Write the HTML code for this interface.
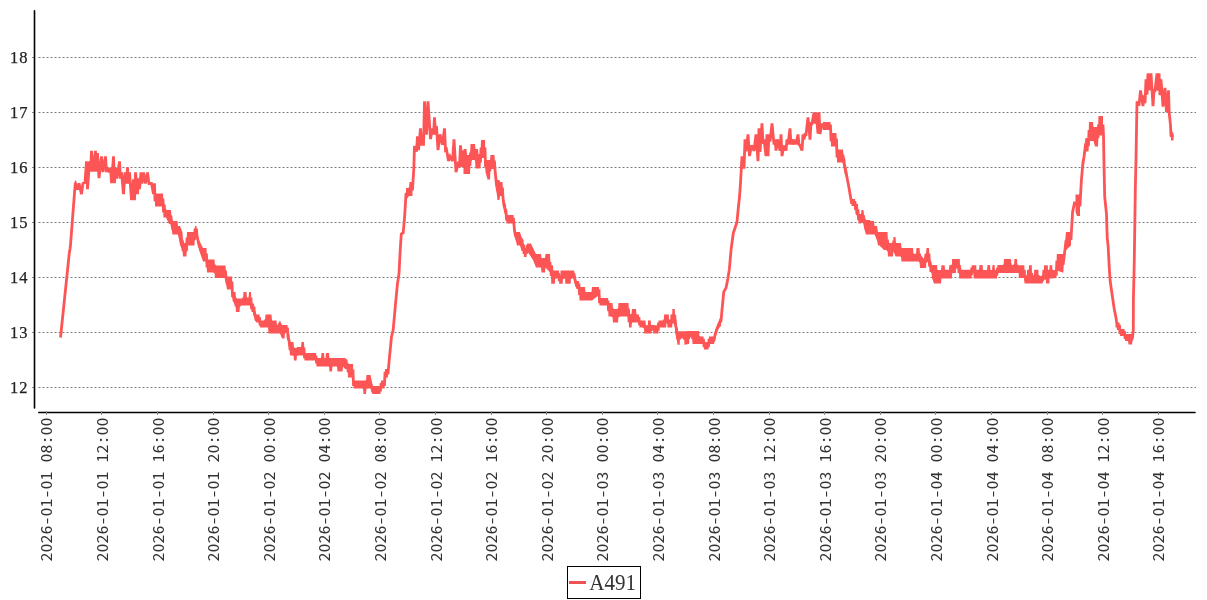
<!DOCTYPE html>
<html><head><meta charset="utf-8"><style>
html,body{margin:0;padding:0;background:#fff;width:1207px;height:600px;overflow:hidden}
.yl{font-family:"Liberation Serif","Noto Serif CJK SC",serif;font-size:16.5px;fill:#222;stroke:#222;stroke-width:0.25px}
.xl{font-family:"Noto Sans Mono CJK SC","DejaVu Sans Mono",monospace;font-size:18px;fill:#333}
.lg{font-family:"Liberation Serif","Noto Serif CJK SC",serif;font-size:22.5px;fill:#333}
</style></head><body>
<svg width="1207" height="600" viewBox="0 0 1207 600" style="position:absolute;left:0;top:0">
<line x1="38.5" y1="387.5" x2="1196" y2="387.5" stroke="#7a7a7a" stroke-width="1" stroke-dasharray="2 2"/>
<line x1="32" y1="387.5" x2="34" y2="387.5" stroke="#888" stroke-width="1"/>
<text x="27.6" y="393.1" text-anchor="end" class="yl">1<tspan dx="1.2">2</tspan></text>
<line x1="38.5" y1="332.5" x2="1196" y2="332.5" stroke="#7a7a7a" stroke-width="1" stroke-dasharray="2 2"/>
<line x1="32" y1="332.5" x2="34" y2="332.5" stroke="#888" stroke-width="1"/>
<text x="27.6" y="338.1" text-anchor="end" class="yl">1<tspan dx="1.2">3</tspan></text>
<line x1="38.5" y1="277.5" x2="1196" y2="277.5" stroke="#7a7a7a" stroke-width="1" stroke-dasharray="2 2"/>
<line x1="32" y1="277.5" x2="34" y2="277.5" stroke="#888" stroke-width="1"/>
<text x="27.6" y="283.1" text-anchor="end" class="yl">1<tspan dx="1.2">4</tspan></text>
<line x1="38.5" y1="222.5" x2="1196" y2="222.5" stroke="#7a7a7a" stroke-width="1" stroke-dasharray="2 2"/>
<line x1="32" y1="222.5" x2="34" y2="222.5" stroke="#888" stroke-width="1"/>
<text x="27.6" y="228.1" text-anchor="end" class="yl">1<tspan dx="1.2">5</tspan></text>
<line x1="38.5" y1="167.5" x2="1196" y2="167.5" stroke="#7a7a7a" stroke-width="1" stroke-dasharray="2 2"/>
<line x1="32" y1="167.5" x2="34" y2="167.5" stroke="#888" stroke-width="1"/>
<text x="27.6" y="173.1" text-anchor="end" class="yl">1<tspan dx="1.2">6</tspan></text>
<line x1="38.5" y1="112.5" x2="1196" y2="112.5" stroke="#7a7a7a" stroke-width="1" stroke-dasharray="2 2"/>
<line x1="32" y1="112.5" x2="34" y2="112.5" stroke="#888" stroke-width="1"/>
<text x="27.6" y="118.1" text-anchor="end" class="yl">1<tspan dx="1.2">7</tspan></text>
<line x1="38.5" y1="57.5" x2="1196" y2="57.5" stroke="#7a7a7a" stroke-width="1" stroke-dasharray="2 2"/>
<line x1="32" y1="57.5" x2="34" y2="57.5" stroke="#888" stroke-width="1"/>
<text x="27.6" y="63.1" text-anchor="end" class="yl">1<tspan dx="1.2">8</tspan></text>
<line x1="34.5" y1="10.8" x2="34.5" y2="408" stroke="#000" stroke-width="1.6" stroke-linecap="round"/>
<line x1="38.8" y1="412.5" x2="1195" y2="412.5" stroke="#000" stroke-width="1.6" stroke-linecap="round"/>
<line x1="46.5" y1="411" x2="46.5" y2="415" stroke="#888" stroke-width="1"/>
<text transform="translate(52.3,417.5) rotate(-90) scale(1,0.836)" text-anchor="end" class="xl">2026-01-01 08:00</text>
<line x1="101.5" y1="411" x2="101.5" y2="415" stroke="#888" stroke-width="1"/>
<text transform="translate(107.9,417.5) rotate(-90) scale(1,0.836)" text-anchor="end" class="xl">2026-01-01 12:00</text>
<line x1="157.5" y1="411" x2="157.5" y2="415" stroke="#888" stroke-width="1"/>
<text transform="translate(163.5,417.5) rotate(-90) scale(1,0.836)" text-anchor="end" class="xl">2026-01-01 16:00</text>
<line x1="213.5" y1="411" x2="213.5" y2="415" stroke="#888" stroke-width="1"/>
<text transform="translate(219.1,417.5) rotate(-90) scale(1,0.836)" text-anchor="end" class="xl">2026-01-01 20:00</text>
<line x1="268.5" y1="411" x2="268.5" y2="415" stroke="#888" stroke-width="1"/>
<text transform="translate(274.7,417.5) rotate(-90) scale(1,0.836)" text-anchor="end" class="xl">2026-01-02 00:00</text>
<line x1="324.5" y1="411" x2="324.5" y2="415" stroke="#888" stroke-width="1"/>
<text transform="translate(330.3,417.5) rotate(-90) scale(1,0.836)" text-anchor="end" class="xl">2026-01-02 04:00</text>
<line x1="379.5" y1="411" x2="379.5" y2="415" stroke="#888" stroke-width="1"/>
<text transform="translate(385.9,417.5) rotate(-90) scale(1,0.836)" text-anchor="end" class="xl">2026-01-02 08:00</text>
<line x1="435.5" y1="411" x2="435.5" y2="415" stroke="#888" stroke-width="1"/>
<text transform="translate(441.5,417.5) rotate(-90) scale(1,0.836)" text-anchor="end" class="xl">2026-01-02 12:00</text>
<line x1="491.5" y1="411" x2="491.5" y2="415" stroke="#888" stroke-width="1"/>
<text transform="translate(497.1,417.5) rotate(-90) scale(1,0.836)" text-anchor="end" class="xl">2026-01-02 16:00</text>
<line x1="546.5" y1="411" x2="546.5" y2="415" stroke="#888" stroke-width="1"/>
<text transform="translate(552.7,417.5) rotate(-90) scale(1,0.836)" text-anchor="end" class="xl">2026-01-02 20:00</text>
<line x1="602.5" y1="411" x2="602.5" y2="415" stroke="#888" stroke-width="1"/>
<text transform="translate(608.3,417.5) rotate(-90) scale(1,0.836)" text-anchor="end" class="xl">2026-01-03 00:00</text>
<line x1="657.5" y1="411" x2="657.5" y2="415" stroke="#888" stroke-width="1"/>
<text transform="translate(663.9,417.5) rotate(-90) scale(1,0.836)" text-anchor="end" class="xl">2026-01-03 04:00</text>
<line x1="713.5" y1="411" x2="713.5" y2="415" stroke="#888" stroke-width="1"/>
<text transform="translate(719.5,417.5) rotate(-90) scale(1,0.836)" text-anchor="end" class="xl">2026-01-03 08:00</text>
<line x1="769.5" y1="411" x2="769.5" y2="415" stroke="#888" stroke-width="1"/>
<text transform="translate(775.1,417.5) rotate(-90) scale(1,0.836)" text-anchor="end" class="xl">2026-01-03 12:00</text>
<line x1="824.5" y1="411" x2="824.5" y2="415" stroke="#888" stroke-width="1"/>
<text transform="translate(830.7,417.5) rotate(-90) scale(1,0.836)" text-anchor="end" class="xl">2026-01-03 16:00</text>
<line x1="880.5" y1="411" x2="880.5" y2="415" stroke="#888" stroke-width="1"/>
<text transform="translate(886.3,417.5) rotate(-90) scale(1,0.836)" text-anchor="end" class="xl">2026-01-03 20:00</text>
<line x1="935.5" y1="411" x2="935.5" y2="415" stroke="#888" stroke-width="1"/>
<text transform="translate(941.9,417.5) rotate(-90) scale(1,0.836)" text-anchor="end" class="xl">2026-01-04 00:00</text>
<line x1="991.5" y1="411" x2="991.5" y2="415" stroke="#888" stroke-width="1"/>
<text transform="translate(997.5,417.5) rotate(-90) scale(1,0.836)" text-anchor="end" class="xl">2026-01-04 04:00</text>
<line x1="1047.5" y1="411" x2="1047.5" y2="415" stroke="#888" stroke-width="1"/>
<text transform="translate(1053.1,417.5) rotate(-90) scale(1,0.836)" text-anchor="end" class="xl">2026-01-04 08:00</text>
<line x1="1102.5" y1="411" x2="1102.5" y2="415" stroke="#888" stroke-width="1"/>
<text transform="translate(1108.7,417.5) rotate(-90) scale(1,0.836)" text-anchor="end" class="xl">2026-01-04 12:00</text>
<line x1="1158.5" y1="411" x2="1158.5" y2="415" stroke="#888" stroke-width="1"/>
<text transform="translate(1164.3,417.5) rotate(-90) scale(1,0.836)" text-anchor="end" class="xl">2026-01-04 16:00</text>
<polyline points="60.5,337.5 64.0,304.0 69.3,253.0 70.0,249.0 70.4,246.0 75.2,184.0 75.5,183.4 77.5,189.6 79.0,183.4 81.5,194.1 83.0,183.4 85.0,182.6 86.5,161.4 87.5,189.1 89.5,161.4 90.5,171.6 91.5,150.9 93.5,171.6 95.5,150.9 96.5,171.6 97.5,153.2 99.0,178.1 101.5,156.4 103.0,172.1 105.5,156.4 106.5,172.1 107.5,167.9 109.5,172.1 110.5,167.9 111.5,183.1 113.5,156.4 114.5,183.1 115.5,167.9 117.0,178.6 119.5,161.4 120.5,178.6 121.5,172.4 123.5,194.1 125.0,172.4 126.5,183.6 127.5,167.4 128.5,183.6 129.5,172.4 131.5,200.1 133.5,179.4 134.5,200.1 135.5,172.4 137.5,194.1 138.5,178.4 139.5,189.1 141.0,172.4 142.0,183.6 143.5,172.4 145.5,183.6 147.5,172.4 149.0,183.6 151.5,183.4 153.5,194.1 154.5,183.4 155.0,200.0 163.0,200.0 163.5,211.0 165.5,211.0 166.0,213.8 169.0,217.0 171.0,217.0 171.5,222.2 172.5,227.8 177.5,227.8 178.0,230.2 180.0,235.5 182.5,241.5 183.0,249.8 186.5,249.8 187.0,238.8 194.5,238.8 195.0,230.0 196.5,230.0 197.0,236.0 199.0,245.0 203.0,254.8 206.5,254.8 207.0,266.0 214.5,266.0 215.0,271.8 225.5,271.8 226.0,277.2 227.0,283.0 232.0,283.0 232.5,296.2 235.5,299.0 236.0,305.2 239.5,305.2 240.0,302.0 243.0,302.0 243.5,298.8 246.5,298.8 247.0,302.0 248.5,302.0 249.0,298.8 251.0,298.8 251.5,307.8 254.0,307.8 254.5,314.5 256.5,318.5 259.5,318.5 260.0,324.0 265.0,324.0 265.5,321.0 268.0,321.0 268.5,324.0 271.5,324.0 272.0,327.0 276.5,327.0 277.0,329.5 280.0,327.0 282.0,331.8 284.5,331.8 285.0,329.0 287.5,329.0 288.0,337.5 289.5,342.2 290.0,348.8 293.5,348.8 294.0,354.2 296.5,354.2 297.0,351.2 301.0,351.2 301.5,348.8 304.0,348.8 304.5,356.8 316.0,356.8 316.5,362.2 321.0,362.2 321.5,359.8 324.0,359.8 324.5,362.2 325.5,362.2 326.0,359.8 329.0,359.8 329.5,364.8 332.0,364.8 332.5,362.2 337.0,362.2 337.5,364.8 342.5,364.8 343.0,362.2 345.0,363.5 347.5,364.5 348.0,370.8 353.0,370.8 353.5,384.5 363.0,384.5 363.5,387.2 366.0,387.2 366.5,381.8 370.5,381.8 371.5,386.0 372.5,390.0 380.5,390.0 381.0,384.5 384.5,384.5 385.0,373.2 388.0,373.2 389.2,360.0 391.5,336.7 393.2,329.7 395.5,304.0 397.4,284.2 399.0,273.7 400.2,250.3 401.3,234.0 403.2,232.8 404.6,217.0 406.0,194.0 409.0,192.0 409.5,189.0 412.5,189.0 413.8,169.0 414.5,145.9 416.5,151.6 417.5,136.4 418.5,150.1 420.5,128.4 421.5,145.6 422.5,139.4 423.5,145.6 424.5,101.4 426.5,134.6 428.0,101.4 430.5,139.1 432.5,128.4 433.5,134.6 434.5,117.4 435.5,134.6 436.5,126.2 438.0,150.1 440.0,134.4 442.5,144.6 444.5,128.4 445.5,150.1 446.5,149.4 448.5,161.1 450.0,156.4 452.5,161.1 454.0,139.4 456.0,172.1 458.5,161.9 459.5,167.1 460.5,145.4 462.5,167.1 463.5,150.4 463.5,161.5 466.5,161.5 467.0,164.5 470.0,164.5 470.5,153.5 472.0,152.0 475.0,152.0 475.5,158.8 478.0,158.8 478.5,161.2 480.5,161.2 481.0,149.0 485.0,149.0 485.5,166.0 487.5,169.8 490.0,169.8 490.5,162.0 494.5,162.0 495.0,170.0 496.5,185.0 497.5,190.0 499.5,190.0 500.0,189.0 502.5,189.0 503.0,198.0 504.0,206.0 506.0,211.0 506.5,219.2 513.5,219.2 514.5,230.5 515.5,235.8 517.0,238.8 520.0,238.8 521.5,244.0 523.5,245.5 524.0,252.5 526.5,252.5 527.0,247.2 531.0,250.2 533.0,254.0 536.0,260.8 541.0,260.8 541.5,265.2 545.0,265.2 545.5,260.8 550.0,263.2 550.5,268.8 551.0,268.8 551.2,274.5 553.0,274.5 553.3,277.0 554.9,277.0 555.1,274.4 559.0,274.4 559.2,279.9 560.4,279.9 560.6,277.0 562.7,277.0 562.9,274.4 565.1,274.4 565.3,277.0 570.7,277.0 570.9,274.4 574.0,274.4 575.0,280.0 576.5,285.0 579.0,285.0 579.5,293.8 585.0,293.8 585.5,296.2 591.5,296.2 592.0,293.8 599.0,291.0 599.5,301.8 608.0,301.8 608.5,309.8 612.5,309.8 613.0,315.8 618.0,315.8 618.5,309.8 628.5,309.8 629.0,320.8 631.5,320.8 632.0,315.8 636.0,315.8 636.5,318.5 639.0,318.5 639.5,323.9 644.0,323.9 644.2,326.9 645.5,326.9 645.7,329.4 647.8,329.4 648.0,326.9 650.8,326.9 651.0,329.4 651.5,329.4 651.7,326.4 653.0,326.4 653.2,329.4 658.3,329.4 658.5,323.9 663.9,323.9 664.1,320.9 666.2,320.9 666.4,318.9 667.3,318.9 667.5,320.9 668.8,320.9 669.0,323.9 670.3,323.9 670.5,320.9 672.2,320.9 672.4,316.2 674.8,316.2 675.0,322.7 676.5,329.0 677.5,338.1 679.7,338.1 679.9,334.9 684.2,334.9 684.4,338.1 689.0,337.5 689.5,334.0 692.0,334.0 692.5,337.5 699.0,337.5 699.5,340.2 703.5,340.2 704.0,345.8 708.5,345.8 709.0,340.2 714.0,340.2 715.0,335.0 717.0,328.8 719.0,324.0 721.0,321.0 722.0,310.0 723.8,291.7 726.0,288.0 727.8,279.0 729.3,269.7 731.1,249.5 733.3,233.0 735.2,227.5 737.0,222.0 738.0,211.0 739.6,196.0 740.5,183.0 742.0,156.4 744.0,168.6 745.0,139.4 746.0,151.3 748.0,134.4 749.5,156.1 751.5,145.4 754.0,150.8 756.0,134.4 758.0,161.1 759.0,128.4 760.0,151.9 762.0,123.4 763.0,143.6 764.0,139.4 766.0,156.1 767.0,134.4 768.0,156.1 769.0,134.4 770.0,141.6 772.0,123.4 774.0,144.6 775.0,139.4 776.0,150.6 777.5,139.4 780.0,150.6 781.0,134.4 782.0,156.1 784.0,145.4 786.0,150.6 787.0,139.4 788.0,144.6 790.0,128.4 791.0,144.6 792.0,139.4 794.0,144.6 795.0,139.4 796.0,144.6 798.0,134.4 799.0,144.6 800.0,145.4 802.0,150.6 803.0,134.4 804.0,139.6 805.0,134.4 806.0,134.6 808.0,117.4 810.0,139.6 811.0,123.4 812.0,123.6 814.0,112.4 815.0,123.6 816.0,112.4 818.0,133.6 819.0,112.4 820.0,134.1 822.0,123.4 823.0,128.6 823.0,126.0 830.5,126.0 831.0,139.8 836.5,139.8 837.0,156.0 843.0,156.0 843.5,161.5 845.5,169.0 847.5,180.0 849.0,188.0 851.5,202.5 855.0,202.5 855.5,209.0 858.0,210.5 858.5,218.8 861.0,218.8 861.5,216.5 863.5,216.5 864.0,221.5 866.0,227.2 870.0,227.2 870.5,227.8 874.0,227.8 874.5,230.2 877.0,233.0 878.0,238.8 879.5,238.8 884.0,241.0 885.0,241.0 887.5,241.0 888.0,249.8 893.0,249.8 893.5,244.0 895.5,246.8 896.0,249.8 901.0,249.8 901.5,254.8 913.0,254.8 913.5,257.8 916.0,257.8 916.5,254.8 919.5,254.8 920.0,261.0 924.0,263.5 924.5,261.0 926.0,261.0 926.5,255.0 929.0,255.0 929.5,265.5 931.5,267.0 932.0,271.5 934.0,274.2 937.0,274.2 937.5,276.8 941.0,276.8 941.5,271.9 944.7,271.9 945.0,274.2 949.0,274.2 949.2,271.9 951.9,271.9 952.1,266.1 955.9,266.1 956.1,263.8 957.4,263.8 957.6,266.1 959.0,266.1 959.2,268.9 959.8,268.9 960.0,271.9 960.9,271.9 961.1,274.2 971.5,274.2 971.7,268.9 973.4,268.9 973.6,271.9 976.2,271.9 976.4,274.2 979.0,274.2 979.5,271.8 982.5,271.8 983.0,274.2 987.0,274.2 987.5,271.8 990.0,271.8 990.5,274.2 992.0,274.2 992.5,271.8 994.5,271.8 995.0,274.2 997.0,274.2 997.5,269.0 1003.5,269.0 1004.0,266.0 1011.0,266.0 1011.5,269.0 1014.0,269.0 1014.5,266.0 1017.0,266.0 1017.3,269.1 1018.7,269.1 1018.9,271.6 1024.3,271.6 1024.5,276.7 1025.4,276.7 1025.6,279.8 1026.9,279.8 1027.1,276.7 1028.8,276.7 1029.0,274.4 1031.8,274.4 1032.0,279.8 1034.0,279.8 1034.2,276.7 1038.4,276.7 1038.6,279.8 1042.3,279.8 1042.5,276.7 1043.9,274.8 1044.1,272.4 1045.9,272.4 1046.1,274.4 1047.8,274.4 1048.0,276.7 1049.4,276.7 1049.6,271.9 1052.2,271.9 1052.4,274.1 1056.3,274.2 1056.8,262.2 1063.3,263.4 1064.0,257.5 1066.0,241.0 1071.0,238.8 1072.6,212.0 1074.5,203.0 1075.5,203.2 1077.0,205.2 1080.0,205.2 1081.3,181.5 1083.0,162.0 1084.0,157.0 1085.5,144.8 1088.5,144.8 1089.0,131.5 1093.0,131.5 1093.5,134.0 1095.0,136.8 1098.0,136.8 1098.5,125.8 1103.0,125.8 1103.5,135.0 1104.0,165.0 1104.7,196.7 1106.5,214.0 1107.2,237.5 1108.1,245.8 1109.2,266.7 1110.2,281.3 1112.0,293.8 1112.9,300.0 1114.1,308.3 1115.8,316.7 1116.9,324.0 1116.9,326.2 1119.5,326.2 1120.0,332.5 1124.5,332.5 1125.0,337.5 1128.0,337.5 1128.5,339.2 1132.0,339.2 1132.5,337.5 1133.3,330.0 1133.4,300.0 1134.3,260.0 1134.8,225.0 1135.3,190.0 1136.0,160.0 1136.5,130.0 1137.0,101.4 1139.0,105.6 1140.5,90.4 1143.0,106.1 1144.0,95.4 1145.0,103.3 1146.0,79.4 1147.0,94.6 1148.0,73.4 1149.0,90.4 1151.0,73.4 1153.0,106.1 1154.0,90.4 1155.0,90.6 1157.0,73.4 1158.0,90.6 1159.0,73.4 1160.0,95.1 1161.0,79.4 1163.0,106.6 1165.0,87.9 1166.5,112.1 1168.5,90.4 1169.2,113.0 1170.5,125.0 1171.0,135.8 1173.5,136.8" fill="none" stroke="#fd5555" stroke-width="2.8" stroke-linejoin="miter" stroke-miterlimit="3"/>
<polygon points="155.0,193.5 163.0,193.5 163.5,204.5 165.5,204.5 166.0,210.0 169.0,210.0 171.0,210.0 171.5,215.5 172.5,221.0 177.5,221.0 178.0,226.0 180.0,226.0 182.5,232.5 183.0,243.0 186.5,243.0 187.0,232.0 194.5,232.0 195.0,226.0 196.5,226.0 197.0,232.0 199.0,240.0 203.0,248.0 206.5,248.0 207.0,259.5 214.5,259.5 215.0,265.5 225.5,265.5 226.0,271.0 227.0,276.5 232.0,276.5 232.5,292.0 235.5,292.0 236.0,298.5 239.5,298.5 240.0,298.5 243.0,298.5 243.5,292.0 246.5,292.0 247.0,298.5 248.5,298.5 249.0,292.0 251.0,292.0 251.5,303.5 254.0,303.5 254.5,309.0 256.5,314.5 259.5,314.5 260.0,320.5 265.0,320.5 265.5,314.5 268.0,314.5 268.5,314.5 271.5,314.5 272.0,320.5 276.5,320.5 277.0,325.5 280.0,320.5 282.0,325.0 284.5,325.0 285.0,325.0 287.5,325.0 288.0,331.0 289.5,335.0 290.0,342.0 293.5,342.0 294.0,348.0 296.5,348.0 297.0,347.0 301.0,347.0 301.5,342.0 304.0,342.0 304.5,353.0 316.0,353.0 316.5,358.0 321.0,358.0 321.5,353.0 324.0,353.0 324.5,358.0 325.5,358.0 326.0,353.0 329.0,353.0 329.5,358.0 332.0,358.0 332.5,358.0 337.0,358.0 337.5,358.0 342.5,358.0 343.0,358.0 345.0,358.0 347.5,360.0 348.0,364.0 353.0,364.0 353.5,380.5 363.0,380.5 363.5,380.5 366.0,380.5 366.5,375.0 370.5,375.0 371.5,380.0 372.5,386.0 380.5,386.0 381.0,380.5 384.5,380.5 385.0,369.0 388.0,369.0 388.0,377.5 385.0,377.5 384.5,388.5 381.0,388.5 380.5,394.0 372.5,394.0 371.5,392.0 370.5,388.5 366.5,388.5 366.0,394.0 363.5,394.0 363.0,388.5 353.5,388.5 353.0,377.5 348.0,377.5 347.5,369.0 345.0,369.0 343.0,366.5 342.5,371.5 337.5,371.5 337.0,366.5 332.5,366.5 332.0,371.5 329.5,371.5 329.0,366.5 326.0,366.5 325.5,366.5 324.5,366.5 324.0,366.5 321.5,366.5 321.0,366.5 316.5,366.5 316.0,360.5 304.5,360.5 304.0,355.5 301.5,355.5 301.0,355.5 297.0,355.5 296.5,360.5 294.0,360.5 293.5,355.5 290.0,355.5 289.5,349.5 288.0,344.0 287.5,333.0 285.0,333.0 284.5,338.5 282.0,338.5 280.0,333.5 277.0,333.5 276.5,333.5 272.0,333.5 271.5,333.5 268.5,333.5 268.0,327.5 265.5,327.5 265.0,327.5 260.0,327.5 259.5,322.5 256.5,322.5 254.5,320.0 254.0,312.0 251.5,312.0 251.0,305.5 249.0,305.5 248.5,305.5 247.0,305.5 246.5,305.5 243.5,305.5 243.0,305.5 240.0,305.5 239.5,312.0 236.0,312.0 235.5,306.0 232.5,300.5 232.0,289.5 227.0,289.5 226.0,283.5 225.5,278.0 215.0,278.0 214.5,272.5 207.0,272.5 206.5,261.5 203.0,261.5 199.0,250.0 197.0,240.0 196.5,234.0 195.0,234.0 194.5,245.5 187.0,245.5 186.5,256.5 183.0,256.5 182.5,250.5 180.0,245.0 178.0,234.5 177.5,234.5 172.5,234.5 171.5,229.0 171.0,224.0 169.0,224.0 166.0,217.5 165.5,217.5 163.5,217.5 163.0,206.5 155.0,206.5" fill="#fd5555"/>
<polygon points="406.0,188.0 409.0,188.0 409.5,182.0 412.5,182.0 412.5,196.0 409.5,196.0 409.0,196.0 406.0,200.0" fill="#fd5555"/>
<polygon points="463.5,149.0 466.5,149.0 467.0,155.0 470.0,155.0 470.5,144.0 472.0,144.0 475.0,144.0 475.5,149.0 478.0,149.0 478.5,154.0 480.5,154.0 481.0,140.0 485.0,140.0 485.5,160.0 487.5,160.0 490.0,160.0 490.5,155.0 494.5,155.0 495.0,164.0 496.5,178.0 497.5,180.0 499.5,180.0 500.0,182.0 502.5,182.0 503.0,192.0 504.0,200.0 506.0,205.0 506.5,215.0 513.5,215.0 514.5,225.0 515.5,232.0 517.0,232.0 520.0,232.0 521.5,237.0 523.5,240.0 524.0,248.0 526.5,248.0 527.0,243.5 531.0,243.5 533.0,248.0 536.0,254.0 541.0,254.0 541.5,258.0 545.0,258.0 545.5,254.0 550.0,254.0 550.5,265.3 551.0,265.3 551.2,265.3 553.0,265.3 553.3,270.4 554.9,270.4 555.1,270.4 559.0,270.4 559.2,276.0 560.4,276.0 560.6,270.4 562.7,270.4 562.9,270.4 565.1,270.4 565.3,270.4 570.7,270.4 570.9,270.4 574.0,270.4 575.0,275.0 576.5,281.0 579.0,281.0 579.5,287.0 585.0,287.0 585.5,292.0 591.5,292.0 592.0,287.0 599.0,287.0 599.5,298.0 608.0,298.0 608.5,303.0 612.5,303.0 613.0,309.0 618.0,309.0 618.5,303.0 628.5,303.0 629.0,314.0 631.5,314.0 632.0,309.0 636.0,309.0 636.5,314.5 639.0,314.5 639.5,320.4 644.0,320.4 644.2,320.4 645.5,320.4 645.7,325.3 647.8,325.3 648.0,320.4 650.8,320.4 651.0,325.3 651.5,325.3 651.7,325.3 653.0,325.3 653.2,325.3 658.3,325.3 658.5,320.4 663.9,320.4 664.1,314.4 666.2,314.4 666.4,314.4 667.3,314.4 667.5,314.4 668.8,314.4 669.0,320.4 670.3,320.4 670.5,314.4 672.2,314.4 672.4,309.1 674.8,309.1 675.0,314.4 676.5,320.0 677.5,331.3 679.7,331.3 679.9,331.3 684.2,331.3 684.4,331.3 689.0,331.0 689.5,331.0 692.0,331.0 692.5,331.0 699.0,331.0 699.5,336.5 703.5,336.5 704.0,342.0 708.5,342.0 709.0,336.5 714.0,336.5 715.0,331.0 717.0,325.5 719.0,320.0 721.0,316.0 721.0,326.0 719.0,328.0 717.0,332.0 715.0,339.0 714.0,344.0 709.0,344.0 708.5,349.5 704.0,349.5 703.5,344.0 699.5,344.0 699.0,344.0 692.5,344.0 692.0,337.0 689.5,337.0 689.0,344.0 684.4,344.8 684.2,338.4 679.9,338.4 679.7,344.8 677.5,344.8 676.5,338.0 675.0,331.0 674.8,323.4 672.4,323.4 672.2,327.5 670.5,327.5 670.3,327.5 669.0,327.5 668.8,327.5 667.5,327.5 667.3,323.4 666.4,323.4 666.2,327.5 664.1,327.5 663.9,327.5 658.5,327.5 658.3,333.5 653.2,333.5 653.0,327.5 651.7,327.5 651.5,333.5 651.0,333.5 650.8,333.5 648.0,333.5 647.8,333.5 645.7,333.5 645.5,333.5 644.2,333.5 644.0,327.5 639.5,327.5 639.0,322.5 636.5,322.5 636.0,322.5 632.0,322.5 631.5,327.5 629.0,327.5 628.5,316.5 618.5,316.5 618.0,322.5 613.0,322.5 612.5,316.5 608.5,316.5 608.0,305.5 599.5,305.5 599.0,295.0 592.0,300.5 591.5,300.5 585.5,300.5 585.0,300.5 579.5,300.5 579.0,289.0 576.5,289.0 575.0,285.0 574.0,278.4 570.9,278.4 570.7,283.7 565.3,283.7 565.1,278.4 562.9,278.4 562.7,283.7 560.6,283.7 560.4,283.7 559.2,283.7 559.0,278.4 555.1,278.4 554.9,283.7 553.3,283.7 553.0,283.7 551.2,283.7 551.0,272.3 550.5,272.3 550.0,272.5 545.5,267.5 545.0,272.5 541.5,272.5 541.0,267.5 536.0,267.5 533.0,260.0 531.0,257.0 527.0,251.0 526.5,257.0 524.0,257.0 523.5,251.0 521.5,251.0 520.0,245.5 517.0,245.5 515.5,239.5 514.5,236.0 513.5,223.5 506.5,223.5 506.0,217.0 504.0,212.0 503.0,204.0 502.5,196.0 500.0,196.0 499.5,200.0 497.5,200.0 496.5,192.0 495.0,176.0 494.5,169.0 490.5,169.0 490.0,179.5 487.5,179.5 485.5,172.0 485.0,158.0 481.0,158.0 480.5,168.5 478.5,168.5 478.0,168.5 475.5,168.5 475.0,160.0 472.0,160.0 470.5,163.0 470.0,174.0 467.0,174.0 466.5,174.0 463.5,174.0" fill="#fd5555"/>
<polygon points="823.0,122.0 830.5,122.0 831.0,133.0 836.5,133.0 837.0,149.5 843.0,149.5 843.5,155.0 845.5,160.0 845.5,178.0 843.5,168.0 843.0,162.5 837.0,162.5 836.5,146.5 831.0,146.5 830.5,130.0 823.0,130.0" fill="#fd5555"/>
<polygon points="851.5,199.0 855.0,199.0 855.5,204.0 858.0,204.0 858.5,214.0 861.0,214.0 861.5,210.0 863.5,210.0 864.0,215.0 866.0,220.0 870.0,220.0 870.5,221.0 874.0,221.0 874.5,226.0 877.0,226.0 878.0,232.0 879.5,232.0 884.0,232.0 885.0,232.0 887.5,232.0 888.0,243.0 893.0,243.0 893.5,237.0 895.5,237.0 896.0,243.0 901.0,243.0 901.5,248.0 913.0,248.0 913.5,254.0 916.0,254.0 916.5,248.0 919.5,248.0 920.0,254.0 924.0,259.0 924.5,254.0 926.0,254.0 926.5,248.0 929.0,248.0 929.5,259.0 931.5,262.0 932.0,265.0 934.0,265.0 937.0,265.0 937.5,270.0 941.0,270.0 941.5,265.2 944.7,265.2 945.0,269.8 949.0,269.8 949.2,265.2 951.9,265.2 952.1,259.1 955.9,259.1 956.1,259.1 957.4,259.1 957.6,259.1 959.0,259.1 959.2,259.1 959.8,259.1 960.0,265.2 960.9,265.2 961.1,269.8 971.5,269.8 971.7,265.2 973.4,265.2 973.6,265.2 976.2,265.2 976.4,269.8 979.0,269.8 979.5,265.0 982.5,265.0 983.0,270.0 987.0,270.0 987.5,265.0 990.0,265.0 990.5,270.0 992.0,270.0 992.5,265.0 994.5,265.0 995.0,270.0 997.0,270.0 997.5,265.0 1003.5,265.0 1004.0,259.0 1011.0,259.0 1011.5,265.0 1014.0,265.0 1014.5,259.0 1017.0,259.0 1017.3,265.2 1018.7,265.2 1018.9,265.2 1024.3,265.2 1024.5,269.8 1025.4,269.8 1025.6,275.9 1026.9,275.9 1027.1,269.8 1028.8,269.8 1029.0,265.2 1031.8,265.2 1032.0,275.9 1034.0,275.9 1034.2,269.8 1038.4,269.8 1038.6,275.9 1042.3,275.9 1042.5,269.8 1043.9,269.8 1044.1,265.2 1045.9,265.2 1046.1,265.2 1047.8,265.2 1048.0,269.8 1049.4,269.8 1049.6,265.2 1052.2,265.2 1052.4,269.8 1056.3,270.5 1056.8,254.0 1063.3,254.0 1064.0,254.0 1066.0,232.0 1071.0,232.0 1071.0,245.6 1066.0,250.0 1064.0,261.0 1063.3,272.7 1056.8,270.5 1056.3,278.0 1052.4,278.5 1052.2,278.5 1049.6,278.5 1049.4,283.6 1048.0,283.6 1047.8,283.6 1046.1,283.6 1045.9,279.7 1044.1,279.7 1043.9,279.7 1042.5,283.6 1042.3,283.6 1038.6,283.6 1038.4,283.6 1034.2,283.6 1034.0,283.6 1032.0,283.6 1031.8,283.6 1029.0,283.6 1028.8,283.6 1027.1,283.6 1026.9,283.6 1025.6,283.6 1025.4,283.6 1024.5,283.6 1024.3,278.1 1018.9,278.1 1018.7,273.1 1017.3,273.1 1017.0,273.0 1014.5,273.0 1014.0,273.0 1011.5,273.0 1011.0,273.0 1004.0,273.0 1003.5,273.0 997.5,273.0 997.0,278.5 995.0,278.5 994.5,278.5 992.5,278.5 992.0,278.5 990.5,278.5 990.0,278.5 987.5,278.5 987.0,278.5 983.0,278.5 982.5,278.5 979.5,278.5 979.0,278.6 976.4,278.6 976.2,278.6 973.6,278.6 973.4,272.6 971.7,272.6 971.5,278.6 961.1,278.6 960.9,278.6 960.0,278.6 959.8,278.6 959.2,278.6 959.0,273.1 957.6,273.1 957.4,268.5 956.1,268.5 955.9,273.1 952.1,273.1 951.9,278.6 949.2,278.6 949.0,278.6 945.0,278.6 944.7,278.6 941.5,278.6 941.0,283.5 937.5,283.5 937.0,283.5 934.0,283.5 932.0,278.0 931.5,272.0 929.5,272.0 929.0,262.0 926.5,262.0 926.0,268.0 924.5,268.0 924.0,268.0 920.0,268.0 919.5,261.5 916.5,261.5 916.0,261.5 913.5,261.5 913.0,261.5 901.5,261.5 901.0,256.5 896.0,256.5 895.5,256.5 893.5,251.0 893.0,256.5 888.0,256.5 887.5,250.0 885.0,250.0 884.0,250.0 879.5,245.5 878.0,245.5 877.0,240.0 874.5,234.5 874.0,234.5 870.5,234.5 870.0,234.5 866.0,234.5 864.0,228.0 863.5,223.0 861.5,223.0 861.0,223.5 858.5,223.5 858.0,217.0 855.5,214.0 855.0,206.0 851.5,206.0" fill="#fd5555"/>
<polygon points="1075.5,194.5 1077.0,194.5 1080.0,194.5 1080.0,216.0 1077.0,216.0 1075.5,212.0" fill="#fd5555"/>
<polygon points="1084.0,149.0 1085.5,138.0 1088.5,138.0 1089.0,122.0 1093.0,122.0 1093.5,127.0 1095.0,127.0 1098.0,127.0 1098.5,116.0 1103.0,116.0 1103.0,135.5 1098.5,135.5 1098.0,146.5 1095.0,146.5 1093.5,141.0 1093.0,141.0 1089.0,141.0 1088.5,151.5 1085.5,151.5 1084.0,165.0" fill="#fd5555"/>
<polygon points="1116.9,322.5 1119.5,322.5 1120.0,329.0 1124.5,329.0 1125.0,334.0 1128.0,334.0 1128.5,334.0 1132.0,334.0 1132.5,334.0 1132.5,341.0 1132.0,344.5 1128.5,344.5 1128.0,341.0 1125.0,341.0 1124.5,336.0 1120.0,336.0 1119.5,330.0 1116.9,330.0" fill="#fd5555"/>
<polygon points="1171.0,131.0 1173.5,133.0 1173.5,140.5 1171.0,140.5" fill="#fd5555"/>
<rect x="567.5" y="566.5" width="73" height="32" fill="none" stroke="#000" stroke-width="1"/>
<line x1="569" y1="582.5" x2="586" y2="582.5" stroke="#ee5252" stroke-width="3"/>
<text transform="translate(589.3,589.8) scale(0.935,1)" class="lg">A491</text>
</svg>
</body></html>
